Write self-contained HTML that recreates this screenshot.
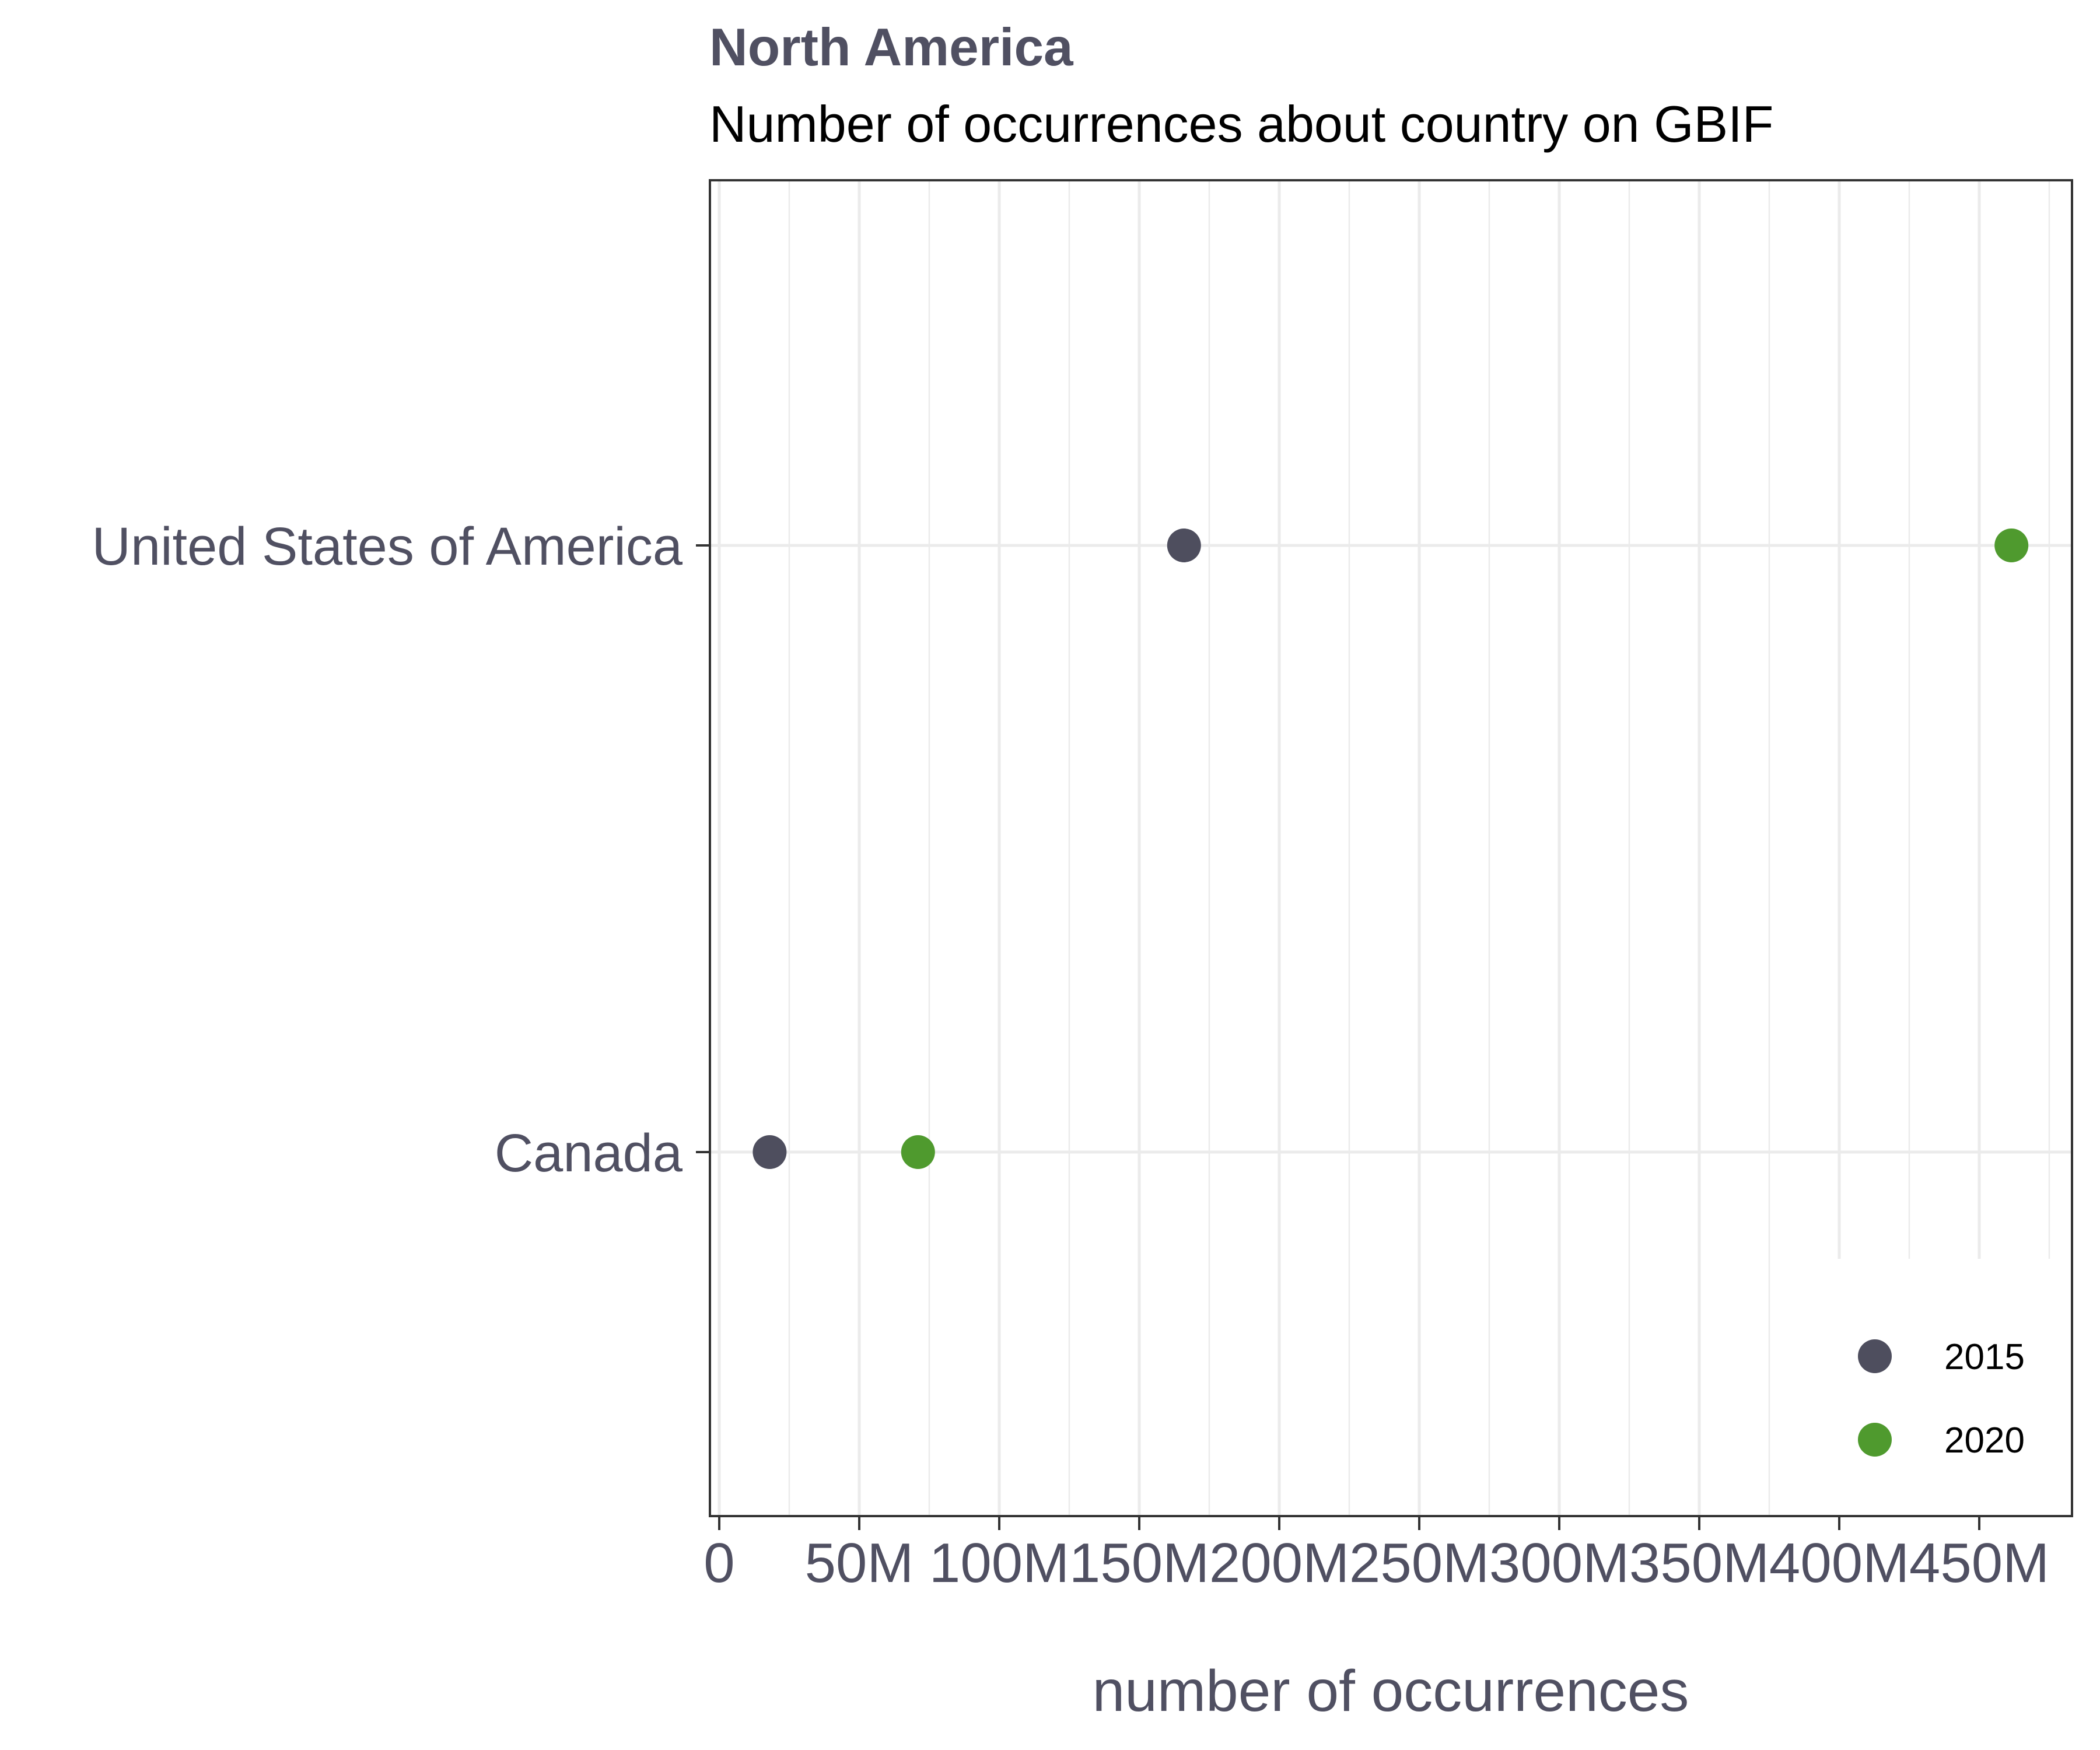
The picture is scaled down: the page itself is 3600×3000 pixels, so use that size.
<!DOCTYPE html>
<html><head><meta charset="utf-8"><style>
html,body{margin:0;padding:0;background:#fff;}
svg{display:block;font-family:"Liberation Sans",Arial,sans-serif;}
</style></head><body>
<svg id="chart" width="3600" height="3000" viewBox="0 0 3600 3000">
<text x="1216" y="112" font-size="91" font-weight="bold" fill="#505062">North America</text>
<text x="1216" y="243" font-size="88" fill="#000">Number of occurrences about country on GBIF</text>
<g id="grid"></g>
<g id="marks"></g>
<g id="legend"></g>
<rect x="1217" y="309" width="2335" height="2290" fill="none" stroke="#333" stroke-width="4"/>
<g id="axes"></g>
<text x="2384" y="2933" font-size="100" fill="#505062" text-anchor="middle">number of occurrences</text>
</svg>
<script>
const categories = ["United States of America", "Canada"];
const series2015 = [166, 18];
const series2020 = [461.5, 71];
const seriesNames = ["2015", "2020"];
const tickValues = [0, 50, 100, 150, 200, 250, 300, 350, 400, 450];
const tickLabels = ["0", "50M", "100M", "150M", "200M", "250M", "300M", "350M", "400M", "450M"];

const NS = "http://www.w3.org/2000/svg";
const L = 1217, R = 3552, T = 309, B = 2599;
const X0 = 1233, PX_PER_M = (3393 - 1233) / 450;
const x = v => X0 + v * PX_PER_M;
const catY = [935, 1975];
const y = i => catY[i];
const colors = ["#4e4e5e", "#4f9a2e"];

function mk(tag, attrs, parent) {
  const e = document.createElementNS(NS, tag);
  for (const k in attrs) e.setAttribute(k, attrs[k]);
  parent.appendChild(e);
  return e;
}
const grid = document.getElementById('grid');
const marks = document.getElementById('marks');
const axes = document.getElementById('axes');
const legend = document.getElementById('legend');

for (let i = 0; i < tickValues.length; i++) {
  const mx = x(tickValues[i] + 25);
  if (mx < R) {
    const l = mk('line', {x1: mx, x2: mx, y1: T, y2: B, stroke: '#ebebeb', 'stroke-width': 2.5}, grid);
    
    
  }
}
tickValues.forEach((v, i) => {
  const gx = x(v);
  const g = mk('line', {x1: gx, x2: gx, y1: T, y2: B, stroke: '#ebebeb', 'stroke-width': 5}, grid);
  
  
  const t = mk('line', {x1: gx, x2: gx, y1: B, y2: B + 24, stroke: '#333', 'stroke-width': 4}, axes);
  
  
  const tl = mk('text', {x: gx, y: 2712, 'font-size': 96, fill: '#505062', 'text-anchor': 'middle'}, axes);
  tl.textContent = tickLabels[i];
  
  
});
categories.forEach((c, i) => {
  const cy = y(i);
  const g = mk('line', {x1: L, x2: R, y1: cy, y2: cy, stroke: '#ebebeb', 'stroke-width': 5}, grid);
  
  
  const t = mk('line', {x1: L - 24, x2: L, y1: cy, y2: cy, stroke: '#333', 'stroke-width': 4}, axes);
  
  
  const tl = mk('text', {x: 1170, y: cy + 33, 'font-size': 92, fill: '#505062', 'text-anchor': 'end'}, axes);
  tl.textContent = c;
  
  
});
[series2015, series2020].forEach((s, si) => {
  s.forEach((v, i) => {
    const p = mk('circle', {cx: x(v), cy: y(i), r: 29, fill: colors[si]}, marks);
    
    
  });
});
const bg = mk('rect', {x: 3150, y: 2158, width: 400, height: 439, fill: '#fff'}, legend);


seriesNames.forEach((n, i) => {
  const ly = 2325 + i * 143;
  const d = mk('circle', {cx: 3214, cy: ly, r: 29, fill: colors[i]}, legend);
  
  
  const t = mk('text', {x: 3333, y: ly + 22, 'font-size': 62, fill: '#000'}, legend);
  t.textContent = n;
  
  
});
</script>
</body></html>
